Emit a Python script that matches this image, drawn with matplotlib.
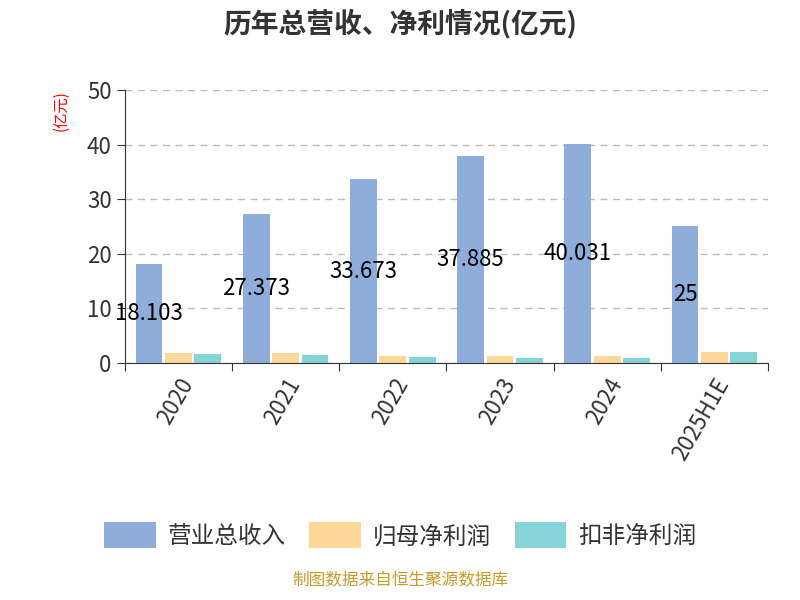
import matplotlib
matplotlib.use("Agg")
import matplotlib.pyplot as plt
import numpy as np

plt.rcParams['font.family'] = ['Noto Sans CJK SC', 'DejaVu Sans']

categories = ["2020", "2021", "2022", "2023", "2024", "2025H1E"]
revenue = [18.103, 27.373, 33.673, 37.885, 40.031, 25]
net_profit = [1.8, 1.8, 1.2, 1.2, 1.2, 2.1]
net_profit_deducted = [1.7, 1.5, 1.1, 0.9, 0.9, 2.0]
revenue_labels = ["18.103", "27.373", "33.673", "37.885", "40.031", "25"]
series_names = ["营业总收入", "归母净利润", "扣非净利润"]
colors = ["#8eaddb", "#fdd898", "#86d4d8"]

fig = plt.figure(figsize=(8, 6), dpi=100)
ax = fig.add_axes([0.156, 0.395, 0.804, 0.455])
x = np.arange(len(categories))
w = 0.25
off = 0.275
ax.bar(x - off, revenue, w, color=colors[0], label=series_names[0])
ax.bar(x, net_profit, w, color=colors[1], label=series_names[1])
ax.bar(x + off, net_profit_deducted, w, color=colors[2], label=series_names[2])
for xi, v, s in zip(x, revenue, revenue_labels):
    ax.text(xi - off, v / 2, s, ha='center', va='center', fontsize=16, color='black')

ax.set_xlim(-0.5, len(categories) - 0.5)
ax.set_ylim(0, 50)
ax.set_yticks(range(0, 51, 10))
ax.set_xticks(np.arange(len(categories) + 1) - 0.5, minor=False)
ax.set_xticklabels([])
ax.set_xticks(x, minor=True)
ax.set_xticklabels(categories, minor=True, rotation=60, fontsize=16, color='#333333', ha='right', rotation_mode='anchor')
ax.tick_params(axis='x', which='minor', length=0, pad=8)
ax.tick_params(axis='x', which='major', length=6, color='#333333')
ax.tick_params(axis='y', labelsize=16, labelcolor='#333333', length=6, color='#333333')
ax.yaxis.grid(True, linestyle=(0, (5, 4)), color='#bbbbbb', linewidth=1)
ax.set_axisbelow(True)
for sp in ['top', 'right']:
    ax.spines[sp].set_visible(False)
ax.spines['left'].set_color('#333333')
ax.spines['bottom'].set_color('#333333')
ax.text(-0.1, 1.0, "(亿元)", transform=ax.transAxes, rotation=90, color='red', fontsize=11, ha='center', va='top')

fig.text(0.5, 0.96, "历年总营收、净利情况(亿元)", ha='center', va='center', fontsize=20, fontweight='bold', color='#333333')
fig.legend(loc='center', bbox_to_anchor=(0.5, 0.108), ncol=3, frameon=False, fontsize=17,
           handlelength=2.2, handleheight=1.3, columnspacing=1.0, handletextpad=0.5, labelcolor='#333333')
fig.text(0.5, 0.018, "制图数据来自恒生聚源数据库", ha='center', va='bottom', fontsize=12, color='#c89a2a')
fig.savefig("out.png", dpi=100)
